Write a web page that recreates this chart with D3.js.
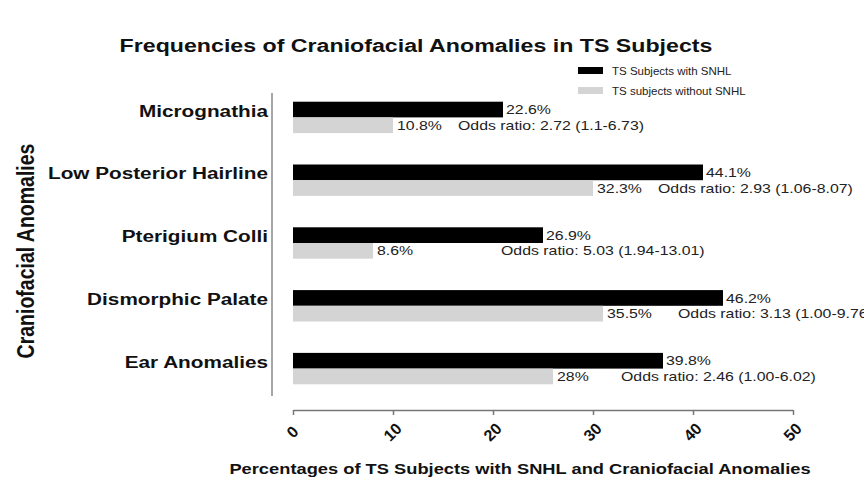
<!DOCTYPE html>
<html>
<head>
<meta charset="utf-8">
<script src="https://cdn.jsdelivr.net/npm/d3@7"></script>
<style>
  body { margin: 0; background: #fff; }
  svg { font-family: Arial, "Liberation Sans", sans-serif; }
  .title { font-size: 19px; font-weight: bold; fill: #111; }
  .cat { font-size: 17px; font-weight: bold; fill: #111; }
  .axis-title { font-size: 15px; font-weight: bold; fill: #111; }
  .tick-label { font-size: 16px; font-weight: bold; fill: #111; }
  .val { font-size: 13px; fill: #222; }
  .legend { font-size: 11.5px; fill: #222; }
</style>
</head>
<body>
<svg width="864" height="482"></svg>
<script>
var categories = ["Micrognathia", "Low Posterior Hairline", "Pterigium Colli", "Dismorphic Palate", "Ear Anomalies"];
var seriesNames = ["TS Subjects with SNHL", "TS subjects without SNHL"];
// bar lengths as drawn in the picture
var withSNHL = [21.0, 41.0, 25.0, 43.0, 37.0];
var withoutSNHL = [10.0, 30.0, 8.0, 31.0, 26.0];
// printed labels
var withLabels = ["22.6%", "44.1%", "26.9%", "46.2%", "39.8%"];
var withoutLabels = ["10.8%", "32.3%", "8.6%", "35.5%", "28%"];
var oddsLabels = ["Odds ratio: 2.72 (1.1-6.73)", "Odds ratio: 2.93 (1.06-8.07)",
  "Odds ratio: 5.03 (1.94-13.01)", "Odds ratio: 3.13 (1.00-9.76)", "Odds ratio: 2.46 (1.00-6.02)"];
var oddsAt = [16.5, 36.5, 20.8, 38.5, 32.8];
var xTicks = [0, 10, 20, 30, 40, 50];

// the original figure is stretched sideways, so text gets a horizontal scale
var SX = 1.22;

var svg = d3.select("svg");

var x = d3.scaleLinear().domain([0, 50]).range([293, 793]);
var y = d3.scaleBand().domain(categories).range([86, 400]).paddingInner(0.5).paddingOuter(0.25);
var half = y.bandwidth() / 2;

function wideText(parent, cls, px, py, anchor, txt) {
    return parent.append("text")
        .attr("class", cls)
        .attr("transform", "translate(" + px + "," + py + ") scale(" + SX + ",1)")
        .attr("dy", "0.35em")
        .attr("text-anchor", anchor)
        .text(txt);
}

wideText(svg, "title", 416, 45, "middle", "Frequencies of Craniofacial Anomalies in TS Subjects");

// legend
var colors = ["#000", "#d4d4d4"];
seriesNames.forEach(function(name, i) {
    svg.append("rect")
        .attr("x", 578).attr("y", 67 + i * 20)
        .attr("width", 25).attr("height", 7)
        .attr("fill", colors[i]);
    svg.append("text")
        .attr("class", "legend")
        .attr("x", 612).attr("y", 70.5 + i * 20)
        .attr("dy", "0.35em")
        .text(name);
});

var g = svg.append("g");

g.selectAll(".bar-with")
    .data(categories)
    .enter()
    .append("rect")
    .attr("x", x(0))
    .attr("y", (d) => y(d))
    .attr("width", (d, i) => x(withSNHL[i]) - x(0))
    .attr("height", half)
    .attr("fill", colors[0]);

g.selectAll(".bar-without")
    .data(categories)
    .enter()
    .append("rect")
    .attr("x", x(0))
    .attr("y", (d) => y(d) + half)
    .attr("width", (d, i) => x(withoutSNHL[i]) - x(0))
    .attr("height", half)
    .attr("fill", colors[1]);

categories.forEach(function(c, i) {
    wideText(g, "val", x(withSNHL[i]) + 3, y(c) + half / 2, "start", withLabels[i]);
    wideText(g, "val", x(withoutSNHL[i]) + 4, y(c) + half * 1.5, "start", withoutLabels[i]);
    wideText(g, "val", x(oddsAt[i]), y(c) + half * 1.5, "start", oddsLabels[i]);
    wideText(g, "cat", 268, y(c) + half / 2 + 1, "end", c);
});

// y axis line
svg.append("line")
    .attr("x1", 272).attr("x2", 272)
    .attr("y1", 93).attr("y2", 396)
    .attr("stroke", "#888").attr("stroke-width", 1.5);

// x axis
var xAxis = svg.append("g")
    .attr("transform", "translate(0,410)")
    .call(d3.axisBottom(x).tickValues(xTicks).tickSize(5).tickSizeOuter(0));
xAxis.select(".domain").attr("stroke", "#777").attr("stroke-width", 1.5);
xAxis.selectAll(".tick line").attr("stroke", "#777").attr("stroke-width", 1.5);
xAxis.selectAll(".tick text")
    .attr("class", "tick-label")
    .attr("font-family", null)
    .attr("font-size", null)
    .attr("fill", null)
    .attr("text-anchor", "middle")
    .attr("x", 0)
    .attr("y", 0)
    .attr("dy", "0.35em")
    .attr("transform", "translate(-1,22) rotate(-45)")
    .text((d) => d);

wideText(svg, "axis-title", 520, 469, "middle", "Percentages of TS Subjects with SNHL and Craniofacial Anomalies");

svg.append("text")
    .attr("class", "axis-title")
    .attr("transform", "translate(25,251) scale(1.25,1) rotate(-90)")
    .attr("dy", "0.35em")
    .attr("text-anchor", "middle")
    .style("font-size", "19.5px")
    .text("Craniofacial Anomalies");
</script>
</body>
</html>
